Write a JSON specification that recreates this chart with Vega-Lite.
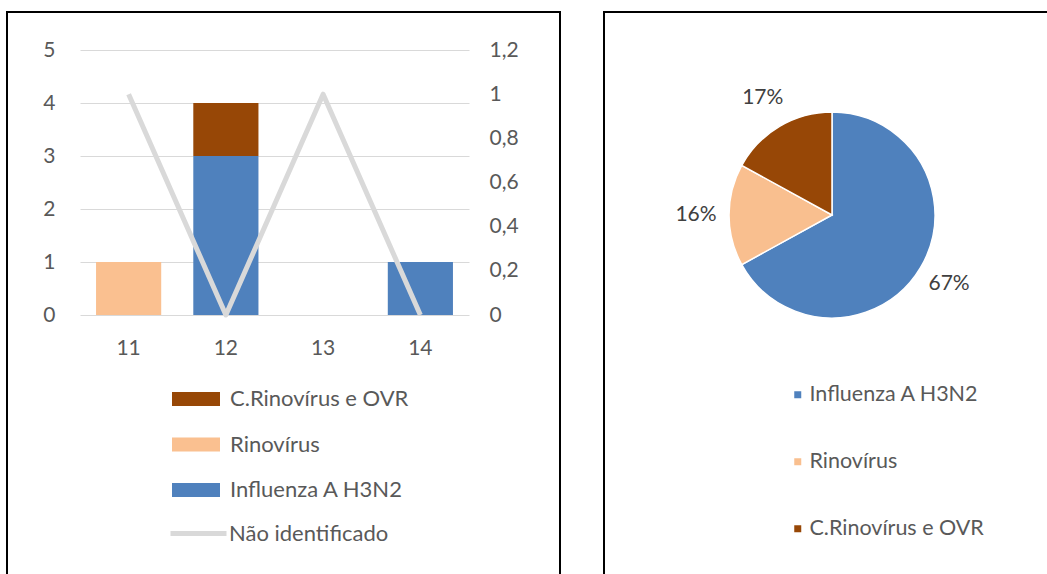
{
  "$schema": "https://vega.github.io/schema/vega-lite/v6.json",
  "padding": {"left": 6, "top": 11, "right": 0, "bottom": 0},
  "background": "#ffffff",
  "config": {
    "view": {"stroke": "#000000", "strokeWidth": 2},
    "font": "Lato",
    "axis": {"labelFont": "Lato", "labelFontSize": 21, "labelColor": "#595959", "domain": false, "ticks": false, "tickSize": 0},
    "legend": {"labelFont": "Lato", "labelFontSize": 22, "labelColor": "#595959", "labelLimit": 400}
  },
  "datasets": {
    "barras": [
      {"semana": "11", "virus": "Rinovírus", "n": 1},
      {"semana": "12", "virus": "Influenza A H3N2", "n": 3},
      {"semana": "12", "virus": "C.Rinovírus e OVR", "n": 1},
      {"semana": "14", "virus": "Influenza A H3N2", "n": 1}
    ],
    "linha": [
      {"semana": "11", "valor": 1},
      {"semana": "12", "valor": 0},
      {"semana": "13", "valor": 1},
      {"semana": "14", "valor": 0}
    ],
    "pizza": [
      {"virus": "Influenza A H3N2", "pct": 67, "rotulo": "67%", "ordem": 1},
      {"virus": "Rinovírus", "pct": 16, "rotulo": "16%", "ordem": 2},
      {"virus": "C.Rinovírus e OVR", "pct": 17, "rotulo": "17%", "ordem": 3}
    ]
  },
  "hconcat": [
    {
      "width": 553,
      "height": 570,
      "layer": [
        {
          "data": {"name": "barras"},
          "mark": {"type": "bar"},
          "encoding": {
            "x": {"field": "semana", "type": "nominal",
              "scale": {"domain": ["11", "12", "13", "14"], "range": [73, 462], "paddingInner": 0.33, "paddingOuter": 0.165},
              "axis": {"title": null, "labelAngle": 0, "orient": "bottom", "offset": -245, "labelPadding": 0, "grid": false}},
            "y": {"field": "n", "type": "quantitative", "stack": true,
              "scale": {"domain": [0, 5], "range": [303, 38], "nice": false},
              "axis": {"title": null, "orient": "left", "values": [0, 1, 2, 3, 4, 5], "grid": true, "gridColor": "#D9D9D9", "gridWidth": 1, "offset": -48, "labelPadding": 0}},
            "color": {"field": "virus", "type": "nominal",
              "sort": ["Influenza A H3N2", "Rinovírus", "C.Rinovírus e OVR"],
              "scale": {"range": ["#4F81BD", "#FAC090", "#974706"]},
              "legend": {"orient": "none", "legendX": 177, "legendY": 375, "title": null,
                "values": ["C.Rinovírus e OVR", "Rinovírus", "Influenza A H3N2"],
                "symbolType": "M-2,-0.58H2V0.58H-2Z", "symbolSize": 576, "symbolStrokeWidth": 0,
                "labelOffset": 22, "rowPadding": 22.5}}
          }
        },
        {
          "data": {"name": "linha"},
          "mark": {"type": "line", "strokeWidth": 5, "strokeJoin": "round"},
          "encoding": {
            "x": {"field": "semana", "type": "nominal"},
            "y": {"field": "valor", "type": "quantitative",
              "scale": {"domain": [0, 1.2], "range": [303, 38], "nice": false},
              "axis": {"title": null, "orient": "right", "values": [0, 0.2, 0.4, 0.6, 0.8, 1, 1.2], "grid": false, "offset": -71, "labelPadding": 0,
                "labelExpr": "replace(format(datum.value, '~g'), '.', ',')"}},
            "stroke": {"datum": "Não identificado", "type": "nominal",
              "scale": {"range": ["#D9D9D9"]},
              "legend": {"orient": "none", "legendX": 161, "legendY": 491, "title": null,
                "symbolType": "stroke", "symbolSize": 3136, "symbolStrokeWidth": 5, "labelOffset": 0}}
          }
        }
      ],
      "resolve": {"scale": {"y": "independent"}}
    },
    {
      "width": 456,
      "height": 570,
      "view": {"stroke": "#000000", "strokeWidth": 2},
      "layer": [
        {
          "data": {"name": "pizza"},
          "mark": {"type": "arc", "outerRadius": 103, "stroke": "#ffffff", "strokeWidth": 1.5,
            "x": 228, "y": 203},
          "encoding": {
            "theta": {"field": "pct", "type": "quantitative", "stack": true},
            "order": {"field": "ordem", "type": "quantitative"},
            "color": {"field": "virus", "type": "nominal",
              "sort": ["Influenza A H3N2", "Rinovírus", "C.Rinovírus e OVR"],
              "scale": {"range": ["#4F81BD", "#F9BF8F", "#974706"]},
              "legend": {"orient": "none", "legendX": 183, "legendY": 372, "title": null,
                "symbolType": "square", "symbolSize": 49, "symbolStrokeWidth": 0,
                "labelOffset": 1, "rowPadding": 44, "labelFontSize": 21.5}}
          }
        },
        {
          "data": {"name": "pizza"},
          "mark": {"type": "text", "radius": 136, "fontSize": 21, "font": "Lato", "fill": "#404040",
            "x": 228, "y": 203},
          "encoding": {
            "theta": {"field": "pct", "type": "quantitative", "stack": true},
            "order": {"field": "ordem", "type": "quantitative"},
            "text": {"field": "rotulo"}
          }
        }
      ]
    }
  ],
  "spacing": 42,
  "resolve": {"scale": {"color": "independent"}, "legend": {"color": "independent"}}
}
